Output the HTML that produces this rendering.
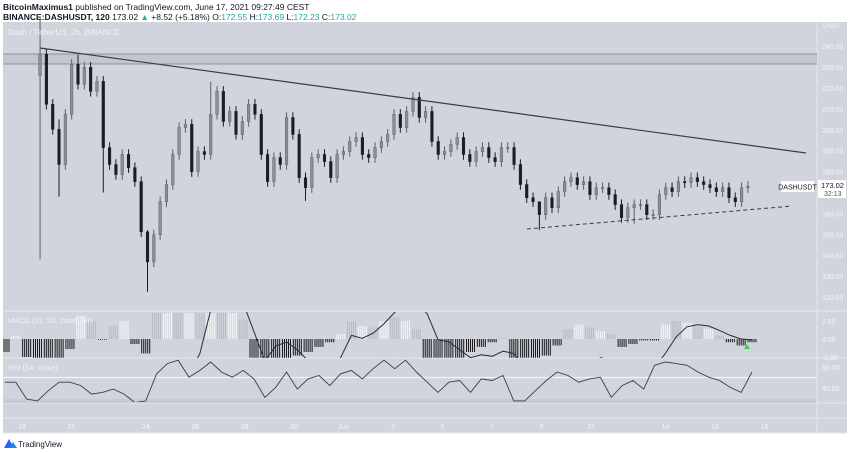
<!DOCTYPE html>
<html><head><meta charset="utf-8">
<style>
body{margin:0;width:850px;height:453px;background:#fff;overflow:hidden;font-family:"Liberation Sans",sans-serif;}
svg{position:absolute;left:0;top:0;}
</style></head>
<body>
<svg id="chart" width="850" height="453">
<rect x="3" y="22" width="844" height="411" fill="#d1d4dc"/>
<text x="3" y="10" font-size="8.5" fill="#131722"><tspan font-weight="bold">BitcoinMaximus1</tspan> published on TradingView.com, June 17, 2021 09:27:49 CEST</text>
<text x="3" y="20" font-size="8.5" fill="#131722"><tspan font-weight="bold">BINANCE:DASHUSDT, 120</tspan> 173.02 <tspan fill="#26a69a">▲</tspan> +8.52 (+5.18%) O:<tspan fill="#26a69a">172.55</tspan> H:<tspan fill="#26a69a">173.69</tspan> L:<tspan fill="#26a69a">172.23</tspan> C:<tspan fill="#26a69a">173.02</tspan></text>
<g id="grid"></g>
<rect x="3" y="54" width="814" height="10" fill="#c3c6ce"/>
<line x1="3" y1="54" x2="817" y2="54" stroke="#8f939c" stroke-width="1"/>
<line x1="3" y1="64" x2="817" y2="64" stroke="#8f939c" stroke-width="1"/>
<g id="candles"></g>
<line x1="40" y1="48" x2="806" y2="153" stroke="#3a3d45" stroke-width="1.2"/>
<line x1="527" y1="229" x2="792" y2="206" stroke="#3a3d45" stroke-width="1" stroke-dasharray="4,3"/>
<text x="8" y="35" font-size="8" fill="#f0f2f5">Dash / TetherUS, 2h, BINANCE</text>
<g id="macd"></g>
<g id="rsi"></g>
<g id="axes"></g>
<text x="8" y="323" font-size="7.5" fill="#f0f2f5">MACD (21, 50, close, 24)</text>
<text x="8" y="370" font-size="7.5" fill="#f0f2f5">RSI (14, close)</text>
<g>
<rect x="781" y="181" width="33" height="11" fill="#fff"/>
<text x="797.5" y="189.5" font-size="7" fill="#131722" text-anchor="middle">DASHUSDT</text>
<rect x="818" y="180" width="28" height="18" fill="#fff"/>
<text x="821" y="188" font-size="7.5" fill="#131722">173.02</text>
<text x="824" y="196" font-size="7" fill="#555">32:13</text>
</g>
<polygon points="744,349 750,349 747,344" fill="#3cd43c"/>
<g>
<polygon points="4,448 9,439 14,448" fill="#2962ff"/>
<polygon points="9,448 13,442 17,448" fill="#1e88e5"/>
<text x="18" y="447" font-size="8" fill="#131722">TradingView</text>
</g>
</svg>
<script>
const closes=[236.2,212.2,200.2,183.4,207.4,231.4,221.8,229.9,218.4,223.2,191.5,183.4,178.6,188.2,181.9,175.2,151.2,136.8,149.8,165.6,173.8,188.2,201.1,202.6,180,189.6,188.2,207.4,218.4,204,208.8,197.8,204,212.2,207.4,188.2,175.2,186.7,183.4,205.9,197.8,177.1,172.3,186.7,188.2,184.8,177.1,188.2,189.6,194.4,196.3,188.2,186.7,191.5,194.4,197.8,207.4,201.1,208.8,215.5,205.9,208.8,194.4,188.2,189.6,193,196.3,188.2,184.8,189.6,191.5,186.7,184.8,191.5,191.5,183.4,173.8,167.5,165.6,159.4,167.5,162.7,170.4,175.2,177.1,173.8,175.2,169,172.3,172.3,169,164.2,158,162.7,164.2,164.2,159.4,159.4,169,172.3,170.4,175.2,174.7,177.1,175.2,173.8,172.3,170.4,172.3,167.5,165.6,172.3,173.0];
const opens0=[226];
const wickHigh=[[0,254],[3,205],[6,236],[17,152],[27,223],[59,218],[79,162]];
const wickLow=[[0,138],[3,168],[10,170],[17,122.5],[42,166],[79,152],[94,155]];
const dayTicks=[0,2,5,7,9,11,13,15,17,19,21,23,26,28,30];
const dayLabels=["19","21","24","26","28","30","Jun","3","5","7","9","11","14","16","18"];
const priceTicks=[240,230,220,210,200,190,180,160,150,140,130,120];
const macdHist=[-1.8,0.45,-2.5,-2.6,-2.6,-2.6,-1.4,3.2,2.5,-0.1,1.8,2.5,-0.7,-2,3.6,3.6,3.6,3.6,3.6,3.6,3.6,3.6,2.7,-2.6,-2.6,-2.6,-2.6,-2.3,-1.8,-1.1,-0.45,0.7,2.5,1.8,1.6,2.5,3,2.5,1.4,-2.6,-2.6,-2.6,-2.6,-1.8,-1.1,-0.45,0.2,-2.6,-2.6,-2.6,-2.3,-0.9,1.4,2,1.6,1.1,0.7,-1.1,-0.7,-0.2,-0.2,2,2.5,2.3,1.8,1.4,0.45,-0.45,-0.9,-0.45];
const macdLine=[-5,-5,-5,-5,-5,-5,-5,-5,-5,-5,-5,-5,-5,-5,-5,-5,-5,-5,-2,4,5,5,5,1,-3,-1,-0.4,-1.5,-3,-5,-4,-2.6,0.5,0.1,0.8,2.1,3.7,5,5,3.5,-0.1,-0.4,-1.5,-2.6,-2.2,-2.4,-1.7,-2,-4,-4,-4,-4,-4,-4,-4,-2.6,-3,-4,-4,-4,-4,-2,0.3,1.7,2,1.8,1.2,0.5,0,-0.1];
const rsiVals=[45.5,45.5,29.4,27.7,37.4,45.5,45.5,42.3,34.2,35.8,39,34.2,26.1,27.7,53.5,63.2,66.5,50.3,56.8,64.8,55.2,50.3,56.8,48.7,31,40.6,55.2,39,48.7,51.9,42.3,53.5,56.8,48.7,58.4,66.5,58.4,66.5,55.2,45.5,35.8,45.5,47.1,35.8,48.7,47.1,51.9,27.7,27.7,37.4,47.1,55.2,51.9,45.5,48.7,50.3,31,42.3,47.1,39,61.6,64.8,63.2,61.6,55.2,50.3,47.1,40.6,35.8,55.2];

const NS="http://www.w3.org/2000/svg";
function mk(tag,attrs,parent){const e=document.createElementNS(NS,tag);for(const k in attrs)e.setAttribute(k,attrs[k]);parent.appendChild(e);return e;}
const xDay=d=>22+d*24.75;
const yPrice=p=>297-(p-120)*2.09;
const yMacd=v=>339-v*7.2;
const yRsi=v=>367-(v-60)*1.05;
const dStart=0.73,dEnd=29.33;
const candleDay=i=>dStart+i*(dEnd-dStart)/(closes.length-1);

const grid=document.getElementById('grid');
[[311],[358],[403],[418],[433]].forEach(([y])=>{
 const l=mk('line',{x1:3,y1:y,x2:847,y2:y,stroke:'#e6e8ee','stroke-width':1},grid);
 
 
});
const rb=mk('rect',{x:3,y:399,width:814,height:4,fill:'#c8cbd3'},grid);


const ml=mk('line',{x1:3,y1:yRsi(50),x2:817,y2:yRsi(50),stroke:'#f2f3f6','stroke-width':1.2},grid);


const vs=mk('line',{x1:817,y1:22,x2:817,y2:433,stroke:'#e6e8ee','stroke-width':1},grid);



const cg=document.getElementById('candles');
const hiMap={},loMap={};
wickHigh.forEach(([i,v])=>hiMap[i]=v);
wickLow.forEach(([i,v])=>loMap[i]=v);
closes.forEach((c,i)=>{
 const o=i===0?opens0[0]:closes[i-1];
 const hi=hiMap[i]!==undefined?hiMap[i]:Math.max(o,c)+2.5;
 const lo=loMap[i]!==undefined?loMap[i]:Math.min(o,c)-2.5;
 const x=xDay(candleDay(i));
 const up=c>=o;
 const col=up?'#5d6068':'#1c1d22';
 const w=mk('line',{x1:x,y1:yPrice(hi),x2:x,y2:yPrice(lo),stroke:col,'stroke-width':1},cg);
 
 
 const yt=yPrice(Math.max(o,c)),yb=yPrice(Math.min(o,c));
 const b=mk('rect',{x:x-1.3,y:yt,width:2.6,height:Math.max(1,yb-yt),fill:up?'#8c8f96':'#1c1d22',stroke:col,'stroke-width':0.5},cg);
 
 
});

const mg=document.getElementById('macd');
const clip=mk('clipPath',{id:'mclip'},mg);
mk('rect',{x:3,y:312,width:814,height:46},clip);
const mh=mk('g',{'clip-path':'url(#mclip)'},mg);
const n=macdHist.length;
const mx=i=>5+i*(752-5)/(n-1);
macdHist.forEach((v,i)=>{
 for(let k=0;k<5;k++){
  const x=mx(i)-4+k*2;
  const l=mk('line',{x1:x,y1:yMacd(0),x2:x,y2:yMacd(v),stroke:v>=0?(i%2?'#f4f5f7':'#b8bbc2'):'#15161a','stroke-width':1},mh);
  
  
 }
});
const mpath=mk('path',{d:macdLine.map((v,i)=>(i?'L':'M')+mx(i).toFixed(1)+','+yMacd(v).toFixed(1)).join(''),fill:'none',stroke:'#2a2c33','stroke-width':1},mh);



const rg=document.getElementById('rsi');
const rclip=mk('clipPath',{id:'rclip'},rg);
mk('rect',{x:3,y:359,width:814,height:43},rclip);
const rn=rsiVals.length;
const rx=i=>5+i*(752-5)/(rn-1);
const rp=mk('path',{'clip-path':'url(#rclip)',d:rsiVals.map((v,i)=>(i?'L':'M')+rx(i).toFixed(1)+','+yRsi(v).toFixed(1)).join(''),fill:'none',stroke:'#3a3d45','stroke-width':0.9},rg);



const ag=document.getElementById('axes');
priceTicks.forEach(p=>{
 const t=mk('text',{x:822,y:yPrice(p)+3,'font-size':7,fill:'#f4f5f7'},ag);
 t.textContent=p.toFixed(2);
 
 
});
const cur=mk('text',{x:823,y:28,'font-size':6.5,fill:'#f4f5f7'},ag);
cur.textContent='USDT';


[[2.5,'2.50'],[0,'0.00'],[-2.5,'-2.50']].forEach(([v,s])=>{
 const t=mk('text',{x:822,y:yMacd(v)+3,'font-size':7,fill:'#f4f5f7'},ag);
 t.textContent=s;
 
 
});
[[60,'60.00'],[40,'40.00']].forEach(([v,s])=>{
 const t=mk('text',{x:822,y:yRsi(v)+3,'font-size':7,fill:'#f4f5f7'},ag);
 t.textContent=s;
 
 
});
dayTicks.forEach((d,i)=>{
 const t=mk('text',{x:xDay(d),y:429,'font-size':7,fill:'#f4f5f7','text-anchor':'middle'},ag);
 t.textContent=dayLabels[i];
 
 
});
</script>
</body></html>
